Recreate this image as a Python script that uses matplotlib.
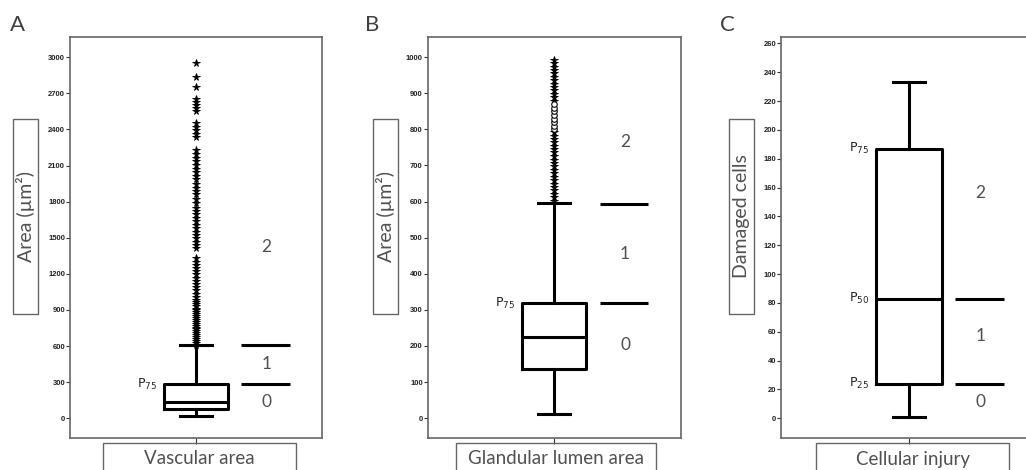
import matplotlib
matplotlib.use("Agg")
import matplotlib.pyplot as plt
from matplotlib.patches import Rectangle

# -----------------------------
# DATA
# -----------------------------
panel_letters = ["A", "B", "C"]
y_titles = ["Area (\u00b5m\u00b2)", "Area (\u00b5m\u00b2)", "Damaged cells"]
x_titles = ["Vascular area", "Glandular lumen area", "Cellular injury"]

# box statistics: whisker low, q1, median, q3, whisker high
whislo = [19, 11, 1]
q1 = [75, 136, 24]
med = [133, 224, 83]
q3 = [285, 319, 187]
whishi = [606, 597, 233]

# outliers drawn as stars
stars_a = [612, 628, 645, 660, 676, 690, 706, 722, 738, 752, 768, 785, 800, 818,
           833, 850, 866, 880, 897, 912, 930, 946, 962, 985, 1010, 1035, 1062,
           1088, 1115, 1140, 1168, 1195, 1222, 1250, 1276, 1302, 1330,
           1415, 1440, 1468, 1495, 1522, 1550, 1580, 1608, 1640, 1668, 1700,
           1722, 1750, 1785, 1818, 1860, 1885, 1915, 1948, 1985, 2015, 2045,
           2075, 2105, 2138, 2165, 2195, 2225,
           2340, 2365, 2395, 2420, 2450, 2550, 2575, 2600, 2625, 2650, 2756,
           2834, 2950]
stars_b = [603, 612, 622, 631, 640, 650, 660, 669, 678, 688, 698, 707, 716, 726,
           736, 745, 754, 764, 774, 783, 792,
           880, 890, 899, 908, 918, 927, 936, 946, 955, 964, 974, 983, 993]
circles_b = [800, 810, 820, 830, 840, 850, 860, 870]
stars_c = []

# category boundaries and their labels
cut_lines = [[285, 606], [319, 594], [24, 83]]
cut_labels = [["0", "1", "2"], ["0", "1", "2"], ["0", "1", "2"]]
cut_label_y = [[136, 451, 1423], [203, 455, 766], [11, 57, 156]]
p_labels = [[("75", 285)], [("75", 319)], [("75", 187), ("50", 83), ("25", 24)]]

y_ticks = [list(range(0, 3001, 300)), list(range(0, 1001, 100)), list(range(0, 261, 20))]
y_limits = [(-164, 3168), (-55, 1056), (-13.7, 264.4)]

# -----------------------------
# LAYOUT (pixels of a 1026x470 figure)
# -----------------------------
W, H = 1026, 470
ax_left = [70, 427.7, 781]
ax_width = [252, 253, 256]
ax_top, ax_bottom = 37, 438
ylab_box_x = [13, 372.7, 729.3]
xlab_box = [(103, 296), (456, 656), (816, 1009)]
letter_x = [17, 372, 727]

GRAY = "#666666"
TXT = "#505050"

fig = plt.figure(figsize=(W / 100, H / 100), dpi=100)


def fx(px):
    return px / W


def fy(py):
    return 1 - py / H


fliers = [stars_a, stars_b, stars_c]

for i in range(3):
    ax = fig.add_axes([fx(ax_left[i]), fy(ax_bottom), ax_width[i] / W, (ax_bottom - ax_top) / H])
    ax.set_xlim(-1, 1)
    ax.set_ylim(*y_limits[i])

    stats = [dict(med=med[i], q1=q1[i], q3=q3[i], whislo=whislo[i], whishi=whishi[i],
                  fliers=fliers[i])]
    ax.bxp(stats, positions=[0], widths=0.51, capwidths=0.25,
           boxprops=dict(color="black", linewidth=2.2),
           medianprops=dict(color="black", linewidth=2.2),
           whiskerprops=dict(color="black", linewidth=2.2),
           capprops=dict(color="black", linewidth=2.2),
           flierprops=dict(marker="*", markersize=5.5, markerfacecolor="black",
                           markeredgecolor="black", markeredgewidth=0.6, linestyle="none"),
           manage_ticks=False)
    if i == 1:
        ax.plot([0] * len(circles_b), circles_b, linestyle="none", marker="o",
                markersize=4, markerfacecolor="white", markeredgecolor="black",
                markeredgewidth=0.8)

    # category boundary lines and labels
    for v in cut_lines[i]:
        ax.plot([0.36, 0.745], [v, v], color="black", linewidth=2.2, solid_capstyle="butt")
    for lab, v in zip(cut_labels[i], cut_label_y[i]):
        ax.text(0.56, v, lab, ha="center", va="center", fontsize=12.5, color=TXT,
                family=["Lato", "DejaVu Sans"])

    # percentile labels
    for sub, v in p_labels[i]:
        ax.text(-0.31, v, r"$\mathregular{P_{%s}}$" % sub, ha="right", va="center",
                fontsize=9, color="#222222")

    ax.set_yticks(y_ticks[i])
    ax.set_xticks([0])
    ax.set_xticklabels([""])
    ax.tick_params(axis="y", length=3, width=0.8, color="#333333", pad=0.5,
                   labelsize=5.5, labelcolor="#222222")
    ax.tick_params(axis="x", length=4, width=0.8, color="#333333")
    for lab in ax.get_yticklabels():
        lab.set_fontweight("bold")
        lab.set_family("Liberation Sans")
    for s in ax.spines.values():
        s.set_color(GRAY)
        s.set_linewidth(1.2)

    # y title in a framed box
    bx = ylab_box_x[i]
    fig.patches.append(Rectangle((fx(bx), fy(314)), 25 / W, 195 / H, transform=fig.transFigure,
                                 fill=False, edgecolor=GRAY, linewidth=1))
    fig.text(fx(bx + 12.5), fy(216.5), y_titles[i], rotation=90, ha="center", va="center",
             fontsize=14, color=TXT, family=["Lato", "DejaVu Sans"])

    # x title in a framed box, running past the bottom edge
    x0, x1 = xlab_box[i]
    fig.patches.append(Rectangle((fx(x0), fy(490)), (x1 - x0) / W, 47 / H, transform=fig.transFigure,
                                 fill=False, edgecolor=GRAY, linewidth=1))
    fig.text(fx((x0 + x1) / 2), fy(459), x_titles[i], ha="center", va="center",
             fontsize=13.5, color=TXT, family=["Lato", "DejaVu Sans"])

    fig.text(fx(letter_x[i]), fy(25), panel_letters[i], ha="center", va="center",
             fontsize=16, color="#404040", family=["Lato", "DejaVu Sans"])

fig.savefig("out.png", dpi=100)
